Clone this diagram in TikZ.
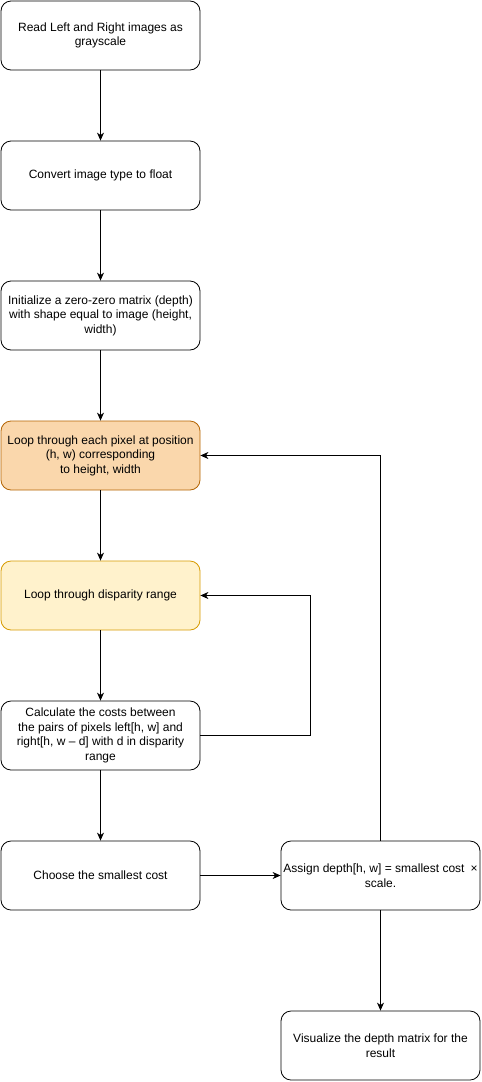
\documentclass[tikz,border=0pt]{standalone}
\usepackage{fontspec}
\setmainfont{Liberation Sans}
\usetikzlibrary{arrows.meta}
\definecolor{orfill}{HTML}{FAD7AC}
\definecolor{orline}{HTML}{B46504}
\definecolor{yefill}{HTML}{FFF2CC}
\definecolor{yeline}{HTML}{D79B00}
\begin{document}
\begin{tikzpicture}[x=1pt,y=-1pt,
  box/.style={draw=black,line width=0.8pt,rounded corners=10pt,minimum width=199pt,minimum height=69pt,
    align=center,font=\fontsize{12}{14.5}\selectfont,inner sep=2pt,fill=white},
  conn/.style={draw=black,line width=0.8pt,-{Stealth[length=8pt,width=7pt,inset=2.5pt]}}]
\useasboundingbox (0,0) rectangle (482,1082);
\node[box] (b1) at (100.5,35.5) {Read Left and Right images as\\grayscale};
\node[box] (b2) at (100.5,175.5) {Convert image type to float};
\node[box] (b3) at (100.5,315.5) {Initialize a zero-zero matrix (depth)\\with shape equal to image (height,\\width)};
\node[box,fill=orfill,draw=orline] (b4) at (100.5,455.5) {Loop through each pixel at position\\(h, w) corresponding\\to height, width};
\node[box,fill=yefill,draw=yeline] (b5) at (100.5,595.5) {Loop through disparity range};
\node[box] (b6) at (100.5,735.5) {Calculate the costs between\\the pairs of pixels left[h, w] and\\right[h, w -- d] with d in disparity\\range};
\node[box] (b7) at (100.5,875.5) {Choose the smallest cost};
\node[box] (b8) at (380.5,875.5) {Assign depth[h, w] = smallest cost\enspace×\\scale.};
\node[box] (b9) at (380.5,1045.5) {Visualize the depth matrix for the\\result};
\coordinate (c1) at (310,735.5);
\draw[conn] (b1) -- (b2);
\draw[conn] (b2) -- (b3);
\draw[conn] (b3) -- (b4);
\draw[conn] (b4) -- (b5);
\draw[conn] (b5) -- (b6);
\draw[conn] (b6) -- (b7);
\draw[conn] (b6.east) -- (c1) |- (b5.east);
\draw[conn] (b7) -- (b8);
\draw[conn] (b8.north) |- (b4.east);
\draw[conn] (b8) -- (b9);
\end{tikzpicture}
\end{document}
